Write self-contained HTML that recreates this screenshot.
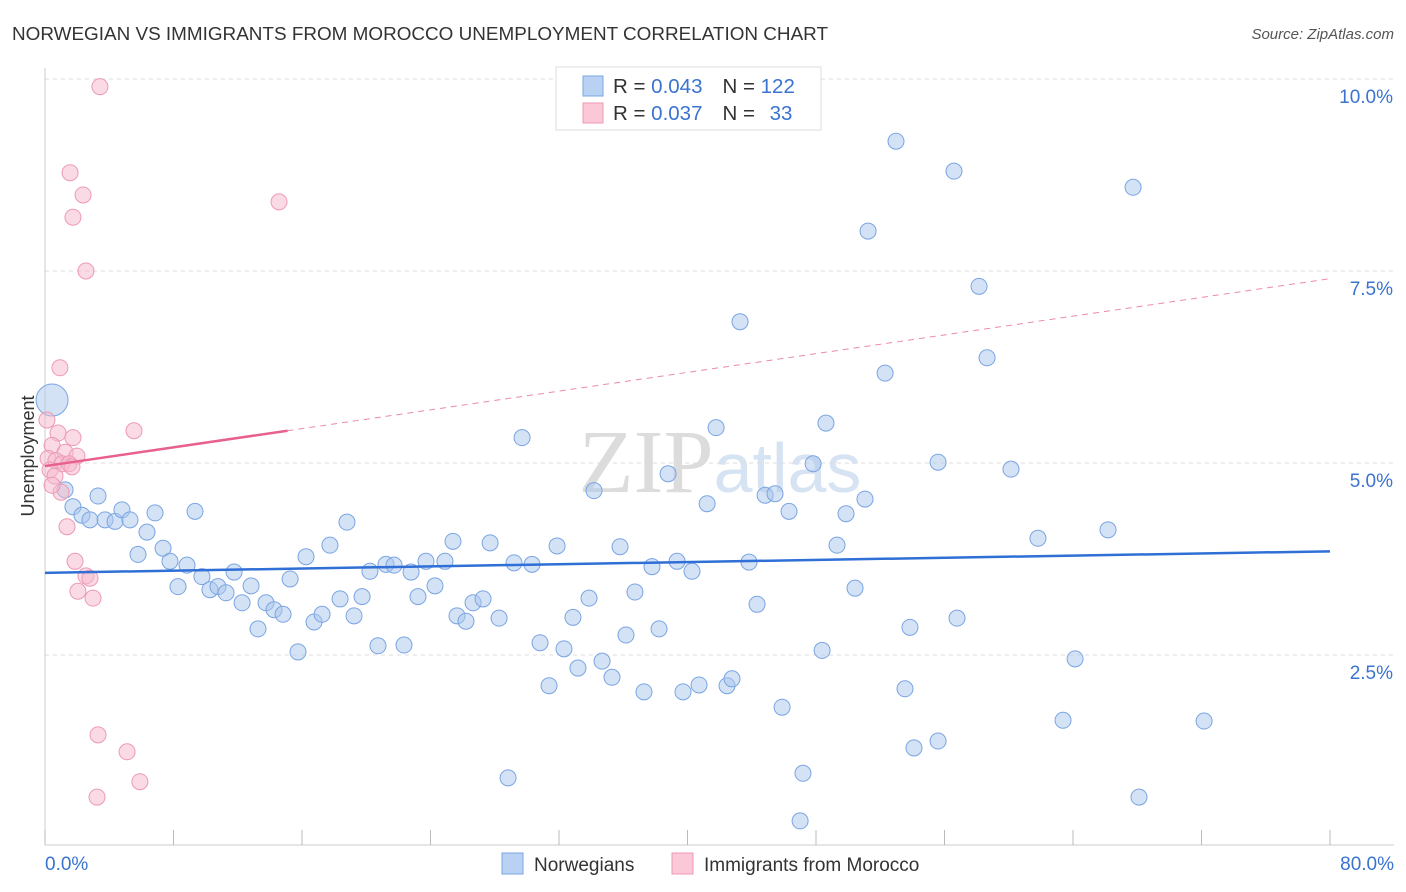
<!DOCTYPE html>
<html><head><meta charset="utf-8"><style>
body{margin:0;background:#fff;font-family:"Liberation Sans",sans-serif;}
svg{display:block}
</style></head><body>
<svg id="chart" width="1406" height="892">
<text x="12" y="40" font-size="18" fill="#333" textLength="816" lengthAdjust="spacingAndGlyphs">NORWEGIAN VS IMMIGRANTS FROM MOROCCO UNEMPLOYMENT CORRELATION CHART</text>
<text x="1394" y="39" font-size="15" fill="#555" font-style="italic" text-anchor="end">Source: ZipAtlas.com</text>
<text x="720" y="492" font-size="90" fill="#e6e6e6" text-anchor="middle" font-family="Liberation Serif,serif"><tspan fill="#dcdcdc">ZIP</tspan><tspan fill="#d6e3f3" font-family="Liberation Sans,sans-serif" font-size="70">atlas</tspan></text>
<text transform="translate(34,456) rotate(-90)" font-size="18" fill="#333" text-anchor="middle">Unemployment</text>
<g id="grid"></g><g id="pts"></g><g id="trends"></g>
<g>
<rect x="556" y="67" width="265" height="63" fill="#fff" stroke="#ddd"/>
<rect x="583" y="76" width="20" height="20" fill="#b9d2f3" stroke="#7aa5e3"/>
<rect x="583" y="103" width="20" height="20" fill="#fbc8d7" stroke="#ee9ab4"/>
<text x="613" y="93" font-size="20.5" fill="#333">R = <tspan fill="#3a73d0">0.043</tspan><tspan dx="20">N = </tspan><tspan fill="#3a73d0">122</tspan></text>
<text x="613" y="120" font-size="20.5" fill="#333">R = <tspan fill="#3a73d0">0.037</tspan><tspan dx="20">N = </tspan><tspan fill="#3a73d0" dx="9">33</tspan></text>
</g>
<g>
<rect x="502" y="853" width="21" height="21" fill="#b9d2f3" stroke="#7aa5e3"/>
<text x="534" y="871" font-size="19" fill="#333">Norwegians</text>
<rect x="672" y="853" width="21" height="21" fill="#fbc8d7" stroke="#ee9ab4"/>
<text x="704" y="871" font-size="19" fill="#333">Immigrants from Morocco</text>
</g>
</svg>
<script>
const blueX=[0.44,1.25,1.74,2.30,2.80,3.30,3.74,4.36,4.79,5.29,5.79,6.35,6.85,7.35,7.78,8.28,8.84,9.34,9.77,10.27,10.77,11.27,11.77,12.27,12.83,13.26,13.76,14.26,14.82,15.26,15.75,16.25,16.75,17.25,17.74,18.37,18.80,19.24,19.74,20.23,20.73,21.23,21.73,22.35,22.79,23.22,23.72,24.28,24.90,25.40,25.65,26.21,26.65,27.27,27.71,28.27,28.83,29.20,29.70,30.32,30.82,31.38,31.88,32.31,32.87,33.18,33.87,34.18,34.68,35.30,35.80,36.17,36.73,37.29,37.79,38.23,38.79,39.35,39.72,40.28,40.72,41.22,41.78,42.46,42.77,43.27,43.83,44.33,44.83,45.45,45.89,46.32,47.19,47.01,47.82,48.38,48.62,49.31,49.87,50.43,51.05,51.24,52.30,52.98,53.54,53.85,54.10,55.60,55.60,56.59,56.78,58.15,58.65,60.14,61.82,63.38,64.13,66.18,67.74,68.11,72.16];
const blueY=[5.82,4.65,4.43,4.32,4.26,4.57,4.26,4.24,4.39,4.26,3.81,4.10,4.35,3.89,3.72,3.39,3.67,4.37,3.52,3.35,3.39,3.31,3.58,3.18,3.40,2.84,3.18,3.09,3.03,3.49,2.54,3.78,2.93,3.03,3.93,3.23,4.23,3.01,3.26,3.59,2.62,3.68,3.67,2.63,3.58,3.26,3.72,3.40,3.72,3.98,3.01,2.94,3.18,3.23,3.96,2.98,0.90,3.70,5.33,3.68,2.66,2.10,3.92,2.58,2.99,2.33,3.24,4.64,2.42,2.21,3.91,2.76,3.32,2.02,3.65,2.84,4.86,3.72,2.02,3.59,2.11,4.47,5.46,2.10,2.19,6.84,3.71,3.16,4.58,4.60,1.82,4.37,0.96,0.34,4.99,2.56,5.52,3.93,4.34,3.37,4.53,8.02,6.17,9.19,2.06,2.86,1.29,1.38,5.01,8.80,2.98,7.30,6.37,4.92,4.02,1.65,2.45,4.13,8.59,0.65,1.64];
const pinkX=[3.42,1.56,2.37,1.74,14.57,2.55,0.93,0.12,5.54,0.81,1.74,0.44,1.25,1.99,0.19,0.68,1.06,1.49,1.68,0.31,0.62,1.00,1.37,1.87,2.55,2.80,2.05,2.99,3.30,5.11,5.91,3.24,0.44];
const pinkY=[9.90,8.78,8.49,8.20,8.40,7.50,6.24,5.56,5.42,5.39,5.33,5.23,5.14,5.09,5.06,5.03,4.99,4.99,4.95,4.91,4.83,4.62,4.17,3.72,3.53,3.50,3.33,3.24,1.46,1.24,0.85,0.65,4.71];
const yTicks=[2.5,5.0,7.5,10.0];
const xTicks=[0,8,16,24,32,40,48,56,64,72,80];
const blueTrend=[3.57,3.85];
const pinkTrend=[4.96,7.40];
const pinkSolidEnd=15.1;
const sx=v=>45+v/80*1285, sy=v=>847-v*76.8;
const NS="http://www.w3.org/2000/svg";
function mk(t,a,p){const e=document.createElementNS(NS,t);for(const k in a)e.setAttribute(k,a[k]);p.appendChild(e);return e;}
const grid=document.getElementById('grid');
yTicks.forEach(v=>{
 const l=mk('line',{x1:45,x2:1394,y1:sy(v),y2:sy(v),stroke:'#ddd','stroke-dasharray':'4,4'},grid);
 
 
 const t=mk('text',{x:1393,y:sy(v)+24,'font-size':19,fill:'#3a73d0','text-anchor':'end'},grid);
 t.textContent=v.toFixed(1)+'%';
 
 
});
mk('line',{x1:45,x2:45,y1:68,y2:845,stroke:'#ccc'},grid);
mk('line',{x1:45,x2:1394,y1:845,y2:845,stroke:'#ccc'},grid);
xTicks.forEach(v=>{
 const l=mk('line',{x1:sx(v),x2:sx(v),y1:830,y2:845,stroke:'#bbb'},grid);
 
 
});
[[0,'start',45],[80,'end',1394]].forEach(([v,a,x])=>{
 const t=mk('text',{x:x,y:870,'font-size':19,fill:'#3a73d0','text-anchor':a},grid);
 t.textContent=v.toFixed(1)+'%';
 
 
});
const pts=document.getElementById('pts');
blueX.forEach((x,i)=>{
 const c=mk('circle',{cx:sx(x),cy:sy(blueY[i]),r:i===0?16:8,fill:'rgba(169,198,236,0.5)',stroke:'#7aa5e3','stroke-width':1},pts);
 
 
});
pinkX.forEach((x,i)=>{
 const c=mk('circle',{cx:sx(x),cy:sy(pinkY[i]),r:8,fill:'rgba(246,184,203,0.5)',stroke:'#ee9ab4','stroke-width':1},pts);
 
 
});
const tr=document.getElementById('trends');
const bl=mk('line',{x1:sx(0),y1:sy(blueTrend[0]),x2:sx(80),y2:sy(blueTrend[1]),stroke:'#2f6fd6','stroke-width':2.5},tr);


const pv=x=>pinkTrend[0]+(pinkTrend[1]-pinkTrend[0])*x/80;
const ps=mk('line',{x1:sx(0),y1:sy(pv(0)),x2:sx(pinkSolidEnd),y2:sy(pv(pinkSolidEnd)),stroke:'#e8608e','stroke-width':2.5},tr);


const pd=mk('line',{x1:sx(pinkSolidEnd),y1:sy(pv(pinkSolidEnd)),x2:sx(80),y2:sy(pv(80)),stroke:'#eb8aa9','stroke-width':1,'stroke-dasharray':'6,5'},tr);


</script>
</body></html>
